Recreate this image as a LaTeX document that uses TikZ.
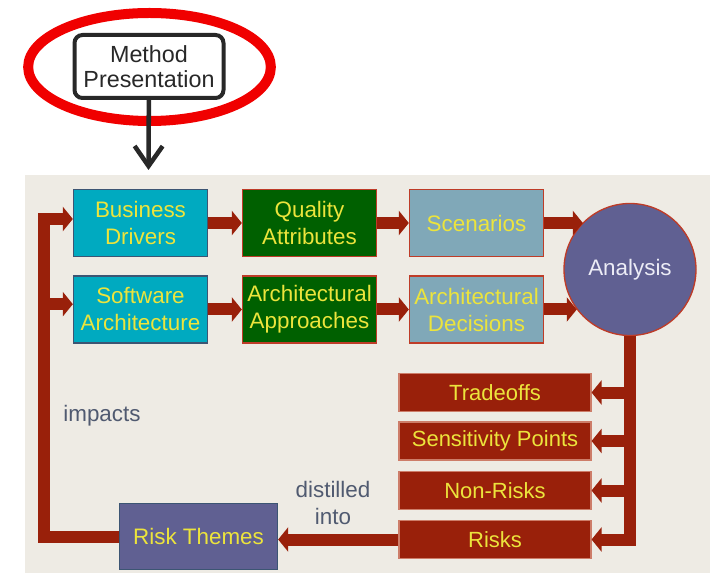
\documentclass[tikz,border=0pt]{standalone}
\usepackage{fontspec}
\setmainfont{Liberation Sans}
\usepackage{tikz}
\usetikzlibrary{arrows.meta,shapes.geometric}
\definecolor{panel}{RGB}{238,235,228}
\definecolor{cyanbox}{RGB}{0,170,192}
\definecolor{greenbox}{RGB}{0,96,0}
\definecolor{scenbox}{RGB}{128,168,184}
\definecolor{slate}{RGB}{96,96,146}
\definecolor{brick}{RGB}{153,32,10}
\definecolor{edge}{RGB}{190,60,40}
\definecolor{pinkedge}{RGB}{205,125,105}
\definecolor{bluedge}{RGB}{60,85,115}
\definecolor{txtyel}{RGB}{236,228,60}
\definecolor{lblgrey}{RGB}{80,90,112}
\definecolor{ringred}{RGB}{240,0,0}
\definecolor{inkgrey}{RGB}{40,40,40}

\begin{document}
\begin{tikzpicture}[x=0.75pt,y=-0.75pt,
    box/.style={rectangle,minimum width=100.5pt,minimum height=50.25pt,inner sep=0pt,
      line width=1pt,text=txtyel,align=center,font=\fontsize{16.8}{20.25}\selectfont},
    outbox/.style={rectangle,fill=brick,draw=pinkedge,line width=0.8pt,minimum width=144pt,
      minimum height=28.5pt,inner sep=0pt,text=txtyel,font=\fontsize{16.5}{20}\selectfont},
    flow/.style={brick,line width=9pt,line join=miter,-{Triangle[width=18pt,length=7.5pt]}},
    lbl/.style={text=lblgrey,align=center,font=\fontsize{16.8}{20}\selectfont}]
  \useasboundingbox (0,0) rectangle (710,573);
  \fill[panel] (25,175) rectangle (710,573);

  % method presentation, circled
  \node[ellipse,draw=ringred,line width=7.5pt,minimum width=182pt,minimum height=81pt,inner sep=0pt] (ring) at (149.5,67) {};
  \node[rectangle,draw=inkgrey,fill=white,line width=3pt,rounded corners=6pt,minimum width=111.75pt,minimum height=47.25pt,
    inner sep=0pt,align=center,text=inkgrey,font=\fontsize{17.5}{19}\selectfont] (mp) at (149,66.5) {Method\\Presentation};
  \coordinate (mpend) at (148.5,170);
  \draw[inkgrey,line width=3.4pt,-{Straight Barb[length=15pt,width=21pt,line join=miter,line cap=butt]}] (mp) -- (mpend);

  % inputs
  \node[box,fill=cyanbox,draw=bluedge] (bd) at (140.5,223) {Business\\Drivers};
  \node[box,fill=greenbox,draw=edge] (qa) at (309.5,223) {Quality\\Attributes};
  \node[box,fill=scenbox,draw=edge] (sc) at (476.5,223) {Scenarios};
  \node[box,fill=cyanbox,draw=bluedge] (sa) at (140.5,309.5) {Software\\Architecture};
  \node[box,fill=greenbox,draw=edge] (aa) at (309.5,309.5) {Architectural\\Approaches};
  \node[box,fill=scenbox,draw=edge] (ad) at (476.5,309.5) {Architectural\\Decisions};
  \node[circle,fill=slate,draw=edge,line width=1pt,minimum size=99pt,inner sep=0pt,
    text={rgb,255:red,236;green,236;blue,246},font=\fontsize{16.8}{20}\selectfont] (an) at (630,269.5) {Analysis};

  % outputs
  \node[outbox] (to) at (495,392.5) {Tradeoffs};
  \node[outbox] (sp) at (495,441) {Sensitivity Points};
  \node[outbox] (nr) at (495,490.5) {Non-Risks};
  \node[outbox] (ri) at (495,539.5) {Risks};
  \node[box,fill=slate,draw=bluedge,minimum width=118.5pt,minimum height=49.5pt] (rt) at (198.5,536.5) {Risk Themes};

  \draw[flow] (bd) -- (qa);
  \draw[flow] (qa) -- (sc);
  \draw[flow] (sc.east) -- (sc.east -| an.135);
  \draw[flow] (sa) -- (aa);
  \draw[flow] (aa) -- (ad);
  \draw[flow] (ad.east) -- (ad.east -| an.217);

  \draw[flow] (an.south) -- (an.south |- ri.east) -- (ri.east);
  \draw[flow] (an.south |- to.east) -- (to.east);
  \draw[flow] (an.south |- sp.east) -- (sp.east);
  \draw[flow] (an.south |- nr.east) -- (nr.east);
  \draw[flow] (ri.west) -- (ri.west -| rt.east);

  % feedback loop
  \coordinate (lp) at (43.5,0);
  \coordinate (bdin) at ([yshift=3pt]bd.west);
  \coordinate (sain) at ([yshift=4pt]sa.west);
  \draw[flow] (rt.west) -- (rt.west -| lp) -- (bdin -| lp) -- (bdin);
  \draw[flow] (sain -| lp) -- (sain);

  \node[lbl] (imp) at (102,416) {impacts};
  \node[lbl] (dist) at (333,503) {distilled\\into};
\end{tikzpicture}
\end{document}
